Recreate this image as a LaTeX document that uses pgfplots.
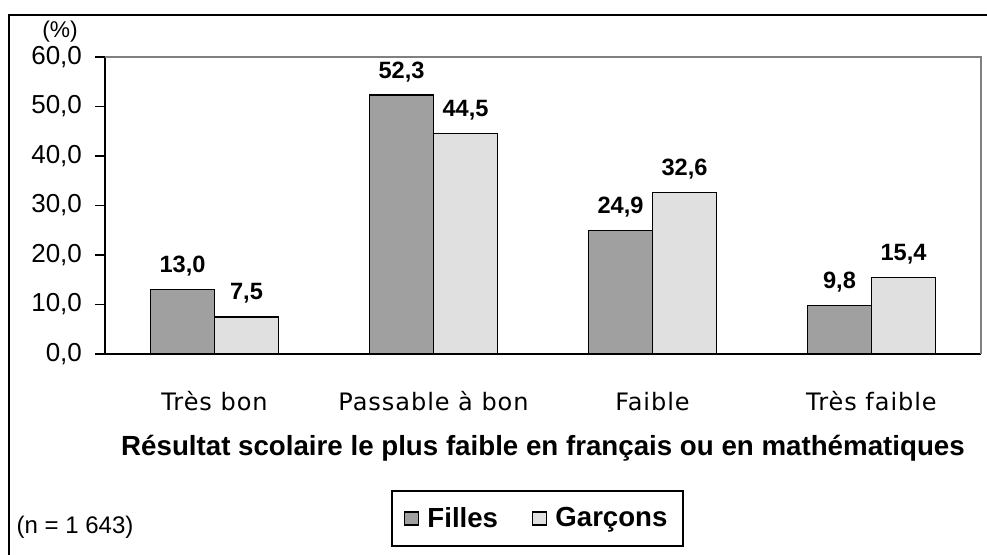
\documentclass[border=0pt]{standalone}
\usepackage{fontspec}
\setmainfont{Liberation Sans}
\newfontfamily\dejavu[LetterSpace=4]{DejaVu Sans}
\usepackage{pgfplots}
\pgfplotsset{compat=1.18}
\definecolor{filles}{HTML}{A0A0A0}
\definecolor{garcons}{HTML}{E0E0E0}
\definecolor{frameg}{HTML}{808080}
\begin{document}
\begin{tikzpicture}
\useasboundingbox (0,0) rectangle (493.5pt,277.5pt);
\draw[line width=1.1pt] (4.5pt,-5pt) -- (4.5pt,270pt) -- (500pt,270pt);
\node[font=\fontsize{11.4}{13}\selectfont] at (30pt,261.5pt) {(\%)};
\node[font=\fontsize{12}{14}\selectfont] at (37.5pt,14pt) {(n = 1 643)};
\begin{axis}[
  at={(52.5pt,100.5pt)}, anchor=south west,
  scale only axis, width=438pt, height=148.5pt,
  ybar=0pt, bar width=32pt,
  xmin=-0.5, xmax=3.5, ymin=0, ymax=60,
  axis x line*=bottom, axis y line*=left,
  axis line style={line width=0.9pt, -},
  xtick={0,1,2,3},
  xticklabels={Très bon, Passable à bon, Faible, Très faible},
  major x tick style={draw=none},
  extra x ticks={-0.5,0.5,1.5,2.5,3.5},
  extra x tick labels={},
  extra x tick style={major tick length=9pt, tick style={line width=0.9pt, black}, tickpos=left,
     tick align=outside},
  xticklabel style={font=\dejavu\fontsize{12}{14}\selectfont, anchor=base, yshift=-23.5pt},
  ytick={0,10,...,60},
  y tick style={line width=0.9pt, black},
  tick align=outside, major tick length=5pt,
  yticklabel style={font=\fontsize{13}{15}\selectfont, anchor=east, xshift=-3pt},
  /pgf/number format/assume math mode=true,
  /pgf/number format/.cd, fixed, fixed zerofill, precision=1, use comma, /pgfplots/.cd,
  xlabel={\textbf{Résultat scolaire le plus faible en français ou en mathématiques}},
  xlabel style={font=\fontsize{13.85}{16}\selectfont, at={(axis description cs:0.5,0)}, anchor=center, yshift=-47pt},
  nodes near coords,
  nodes near coords style={font=\bfseries\fontsize{11.8}{14}\selectfont, anchor=south, yshift=3pt,
     /pgf/number format/.cd, fixed, fixed zerofill, precision=1, use comma, assume math mode=true},
  legend columns=2,
  legend style={at={(0.494,-0.554)}, anchor=center, draw=black, line width=1pt,
     font=\bfseries\fontsize{13.8}{16}\selectfont, inner xsep=6pt, inner ysep=6pt,
     /tikz/every odd column/.append style={column sep=2pt},
     /tikz/every even column/.append style={column sep=15pt}},
  legend image code/.code={\draw[#1, line width=0.7pt] (0pt,-3.2pt) rectangle (7pt,3.2pt);},
  clip=false,
]
\addplot[fill=filles, draw=black, line width=0.7pt] coordinates {(0,13.0) (1,52.3) (2,24.9) (3,9.8)};
\addplot[fill=garcons, draw=black, line width=0.7pt] coordinates {(0,7.5) (1,44.5) (2,32.6) (3,15.4)};
\legend{Filles, Garçons}
\draw[frameg, line width=1.1pt] (rel axis cs:0,1) -- (rel axis cs:1,1) -- (rel axis cs:1,0);
\end{axis}
\end{tikzpicture}
\end{document}
